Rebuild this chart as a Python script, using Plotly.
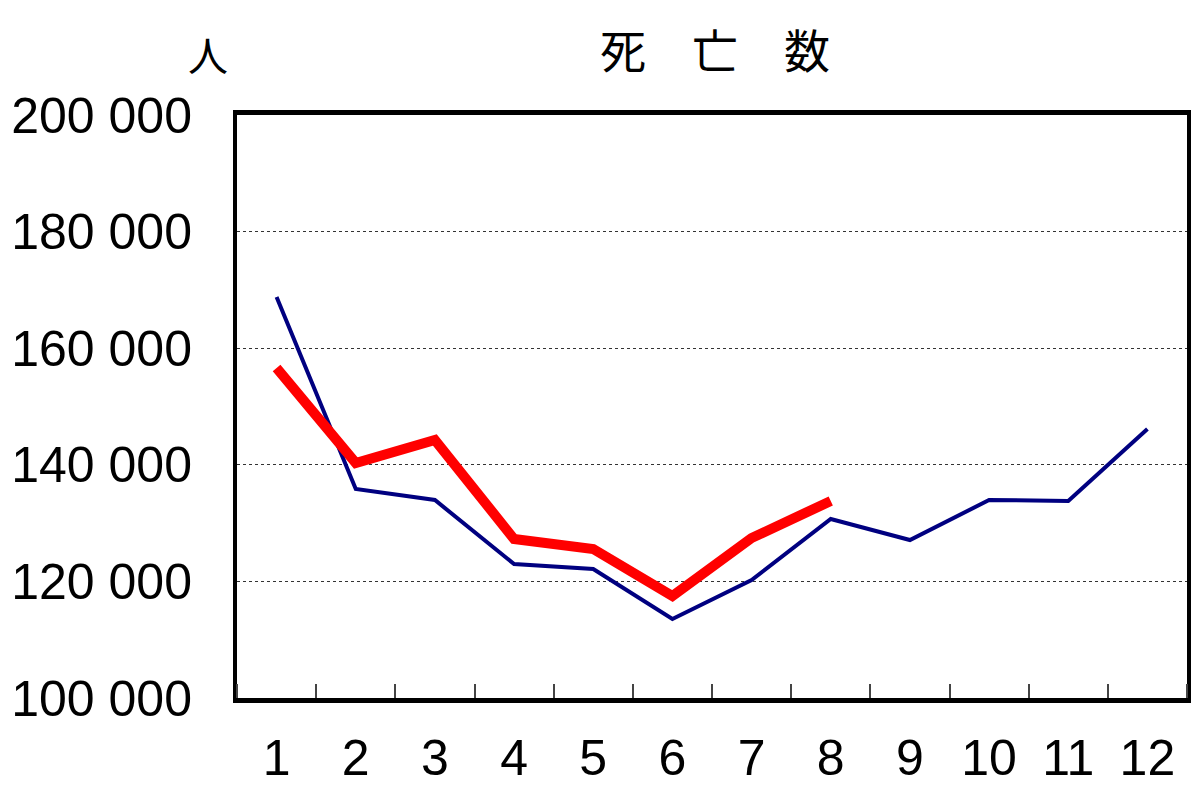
import plotly.graph_objects as go

months = [1, 2, 3, 4, 5, 6, 7, 8, 9, 10, 11, 12]
deaths_prev = [168800, 135850, 133960, 122980, 122130, 113550,
               120240, 130700, 127100, 133960, 133790, 146140]
deaths_curr = [156600, 140310, 144250, 127270, 125560, 117500, 127440, 133790]

label_font = "Liberation Sans, Arial, sans-serif"
cjk_font = "Noto Sans CJK JP, sans-serif"

fig = go.Figure()

fig.add_trace(go.Scatter(
    x=months, y=deaths_prev, mode="lines",
    line=dict(color="#000080", width=4),
    showlegend=False))

fig.add_trace(go.Scatter(
    x=months[:len(deaths_curr)], y=deaths_curr, mode="lines",
    line=dict(color="#FF0000", width=10),
    showlegend=False))

# page has an 8px body margin, so the figure is a bit smaller than the window
fig.update_layout(
    width=1192, height=786,
    margin=dict(l=229, r=13, t=107, b=96),
    paper_bgcolor="white", plot_bgcolor="white",
    separators=". ",
    font=dict(family=label_font, size=50, color="black"),
    annotations=[
        dict(text="死　亡　数", x=0.503, y=1.115, xref="paper", yref="paper",
             xanchor="center", yanchor="middle", showarrow=False,
             font=dict(family=cjk_font, size=46, color="black")),
        dict(text="人", x=-0.031, y=1.105, xref="paper", yref="paper",
             xanchor="center", yanchor="middle", showarrow=False,
             font=dict(family=cjk_font, size=40, color="black")),
    ],
)

fig.update_xaxes(
    range=[0.5, 12.5], tickmode="array", tickvals=months,
    ticks="", showgrid=False, zeroline=False, automargin=False,
    showline=True, linecolor="black", linewidth=5, mirror=True,
    ticklabelstandoff=12,
    minor=dict(ticks="inside", tick0=0.5, dtick=1, ticklen=14,
               tickcolor="#444444", tickwidth=1.5, showgrid=False),
)

fig.update_yaxes(
    range=[100000, 200000], dtick=20000, tickformat=",d",
    ticks="", zeroline=False, automargin=False,
    showgrid=True, gridcolor="#333333", griddash="dot", gridwidth=1,
    showline=True, linecolor="black", linewidth=4, mirror=True,
    ticklabelstandoff=31,
)

fig.write_html("out.html")
